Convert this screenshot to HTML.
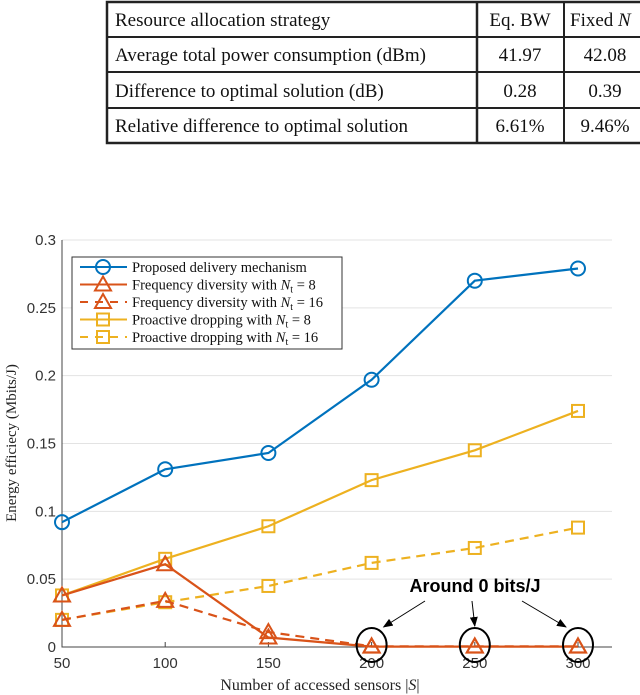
<!DOCTYPE html>
<html><head><meta charset="utf-8"><style>
body{margin:0;width:640px;height:695px;background:#fff;overflow:hidden;font-family:"Liberation Serif",serif}
svg{position:absolute;left:0;top:0}
</style></head><body>
<svg width="640" height="695">
<g font-family="Liberation Serif, serif" font-size="19" fill="#111">
<rect x="107" y="2" width="560" height="141" fill="none" stroke="#222" stroke-width="2.5"/>
<line x1="107" y1="37" x2="640" y2="37" stroke="#222" stroke-width="2"/>
<line x1="107" y1="72" x2="640" y2="72" stroke="#222" stroke-width="2"/>
<line x1="107" y1="108" x2="640" y2="108" stroke="#222" stroke-width="2"/>
<line x1="477" y1="2" x2="477" y2="143" stroke="#222" stroke-width="2.5"/>
<line x1="564" y1="2" x2="564" y2="143" stroke="#222" stroke-width="2"/>
<text x="115" y="26">Resource allocation strategy</text>
<text x="115" y="61">Average total power consumption (dBm)</text>
<text x="115" y="97">Difference to optimal solution (dB)</text>
<text x="115" y="132">Relative difference to optimal solution</text>
<text x="520" y="26" text-anchor="middle">Eq. BW</text>
<text x="520" y="61" text-anchor="middle">41.97</text>
<text x="520" y="97" text-anchor="middle">0.28</text>
<text x="520" y="132" text-anchor="middle">6.61%</text>
<text x="570" y="26">Fixed <tspan font-style="italic">N</tspan></text>
<text x="605" y="61" text-anchor="middle">42.08</text>
<text x="605" y="97" text-anchor="middle">0.39</text>
<text x="605" y="132" text-anchor="middle">9.46%</text>
</g>
<g id="chart"></g>
</svg>
<script>
const categories=[50,100,150,200,250,300];
const proposed=[0.092,0.131,0.143,0.197,0.270,0.279];
const freq8=[0.038,0.061,0.007,0.0003,0.0003,0.0003];
const freq16=[0.020,0.034,0.011,0.0005,0.0005,0.0005];
const drop8=[0.038,0.065,0.089,0.123,0.145,0.174];
const drop16=[0.020,0.033,0.045,0.062,0.073,0.088];
const yTicks=[0,0.05,0.1,0.15,0.2,0.25,0.3];
const yTickLabels=['0','0.05','0.1','0.15','0.2','0.25','0.3'];
const xTickLabels=['50','100','150','200','250','300'];
const circled=[200,250,300];

const NS='http://www.w3.org/2000/svg';
const g=document.getElementById('chart');
const X=v=>62+(v-50)/250*516;
const Y=v=>647-v/0.3*407;
function mk(t,a,p){const e=document.createElementNS(NS,t);for(const k in a)e.setAttribute(k,a[k]);(p||g).appendChild(e);return e;}
yTicks.forEach((v,i)=>{
 const l=mk('line',{x1:62,x2:612,y1:Y(v),y2:Y(v),stroke:'#e3e3e3','stroke-width':1});
 
 
 const t=mk('text',{x:56,y:Y(v)+5,'text-anchor':'end','font-family':'Liberation Sans, sans-serif','font-size':15,fill:'#333'});
 t.textContent=yTickLabels[i];
 
 
});
categories.forEach((c,i)=>{
 mk('line',{x1:X(c),x2:X(c),y1:647,y2:642,stroke:'#444'});
 const t=mk('text',{x:X(c),y:668,'text-anchor':'middle','font-family':'Liberation Sans, sans-serif','font-size':15,fill:'#333'});
 t.textContent=xTickLabels[i];
 
 
});
const ax=mk('path',{d:'M62 240V647H612',fill:'none',stroke:'#444','stroke-width':1});


function marker(p,type,x,y,col){
 if(type==='o')mk('circle',{cx:x,cy:y,r:7,fill:'none',stroke:col,'stroke-width':2},p);
 else if(type==='^')mk('path',{d:`M${x} ${y-8}L${x+8} ${y+6}L${x-8} ${y+6}Z`,fill:'none',stroke:col,'stroke-width':2},p);
 else mk('rect',{x:x-6,y:y-6,width:12,height:12,fill:'none',stroke:col,'stroke-width':2},p);
}
const series=[
 [drop16,'#EDB120','s',true,'series-dropping-16'],
 [drop8,'#EDB120','s',false,'series-dropping-8'],
 [freq16,'#D95319','^',true,'series-frequency-16'],
 [freq8,'#D95319','^',false,'series-frequency-8'],
 [proposed,'#0072BD','o',false,'series-proposed']];
series.forEach(([d,col,m,dash,name])=>{
 const sg=mk('g',{});
 
 
 const a={points:d.map((v,i)=>X(categories[i])+','+Y(v)).join(' '),fill:'none',stroke:col,'stroke-width':2.2};
 if(dash)a['stroke-dasharray']='9,6';
 mk('polyline',a,sg);
 d.forEach((v,i)=>marker(sg,m,X(categories[i]),Y(v),col));
});
const an=mk('g',{});


circled.forEach(c=>mk('ellipse',{cx:X(c),cy:645,rx:15,ry:17,fill:'none',stroke:'#000','stroke-width':2},an));
const at=mk('text',{x:475,y:592,'text-anchor':'middle','font-family':'Liberation Sans, sans-serif','font-size':18,'font-weight':'bold',fill:'#000'},an);
at.textContent='Around 0 bits/J';
mk('defs',{},an).innerHTML='<marker id="ah" markerWidth="10" markerHeight="8" refX="9" refY="4" orient="auto"><path d="M0 0L10 4L0 8Z"/></marker>';
[[425,601,X(200)+12,627],[472,601,X(250),626],[522,601,X(300)-12,627]].forEach(a=>mk('line',{x1:a[0],y1:a[1],x2:a[2],y2:a[3],stroke:'#000','stroke-width':1,'marker-end':'url(#ah)'},an));
const lg=mk('g',{});


mk('rect',{x:72,y:257,width:270,height:92,fill:'#fff',stroke:'#333','stroke-width':1},lg);
const le=[['#0072BD','o',false,'Proposed delivery mechanism'],['#D95319','^',false,'Frequency diversity with <tspan font-style="italic">N</tspan><tspan font-size="10" dy="3">t</tspan><tspan dy="-3"> = 8</tspan>'],['#D95319','^',true,'Frequency diversity with <tspan font-style="italic">N</tspan><tspan font-size="10" dy="3">t</tspan><tspan dy="-3"> = 16</tspan>'],['#EDB120','s',false,'Proactive dropping with <tspan font-style="italic">N</tspan><tspan font-size="10" dy="3">t</tspan><tspan dy="-3"> = 8</tspan>'],['#EDB120','s',true,'Proactive dropping with <tspan font-style="italic">N</tspan><tspan font-size="10" dy="3">t</tspan><tspan dy="-3"> = 16</tspan>']];
le.forEach((e,i)=>{
 const y=267+i*17.5;
 const eg=mk('g',{},lg);
 
 
 const a={x1:80,x2:127,y1:y,y2:y,stroke:e[0],'stroke-width':2};
 if(e[2])a['stroke-dasharray']='8,7';
 mk('line',a,eg);
 marker(eg,e[1],103,y,e[0]);
 const t=mk('text',{x:132,y:y+5,'font-size':14.5,fill:'#111'},eg);
 t.innerHTML=e[3];
});
const yl=mk('text',{x:0,y:0,transform:'translate(16,443) rotate(-90)','text-anchor':'middle','font-size':15,fill:'#222'});
yl.textContent='Energy efficiecy (Mbits/J)';


const xl=mk('text',{x:320,y:690,'text-anchor':'middle','font-size':16,fill:'#222'});
xl.innerHTML='Number of accessed sensors |<tspan font-style="italic">S</tspan>|';


</script>
</body></html>
